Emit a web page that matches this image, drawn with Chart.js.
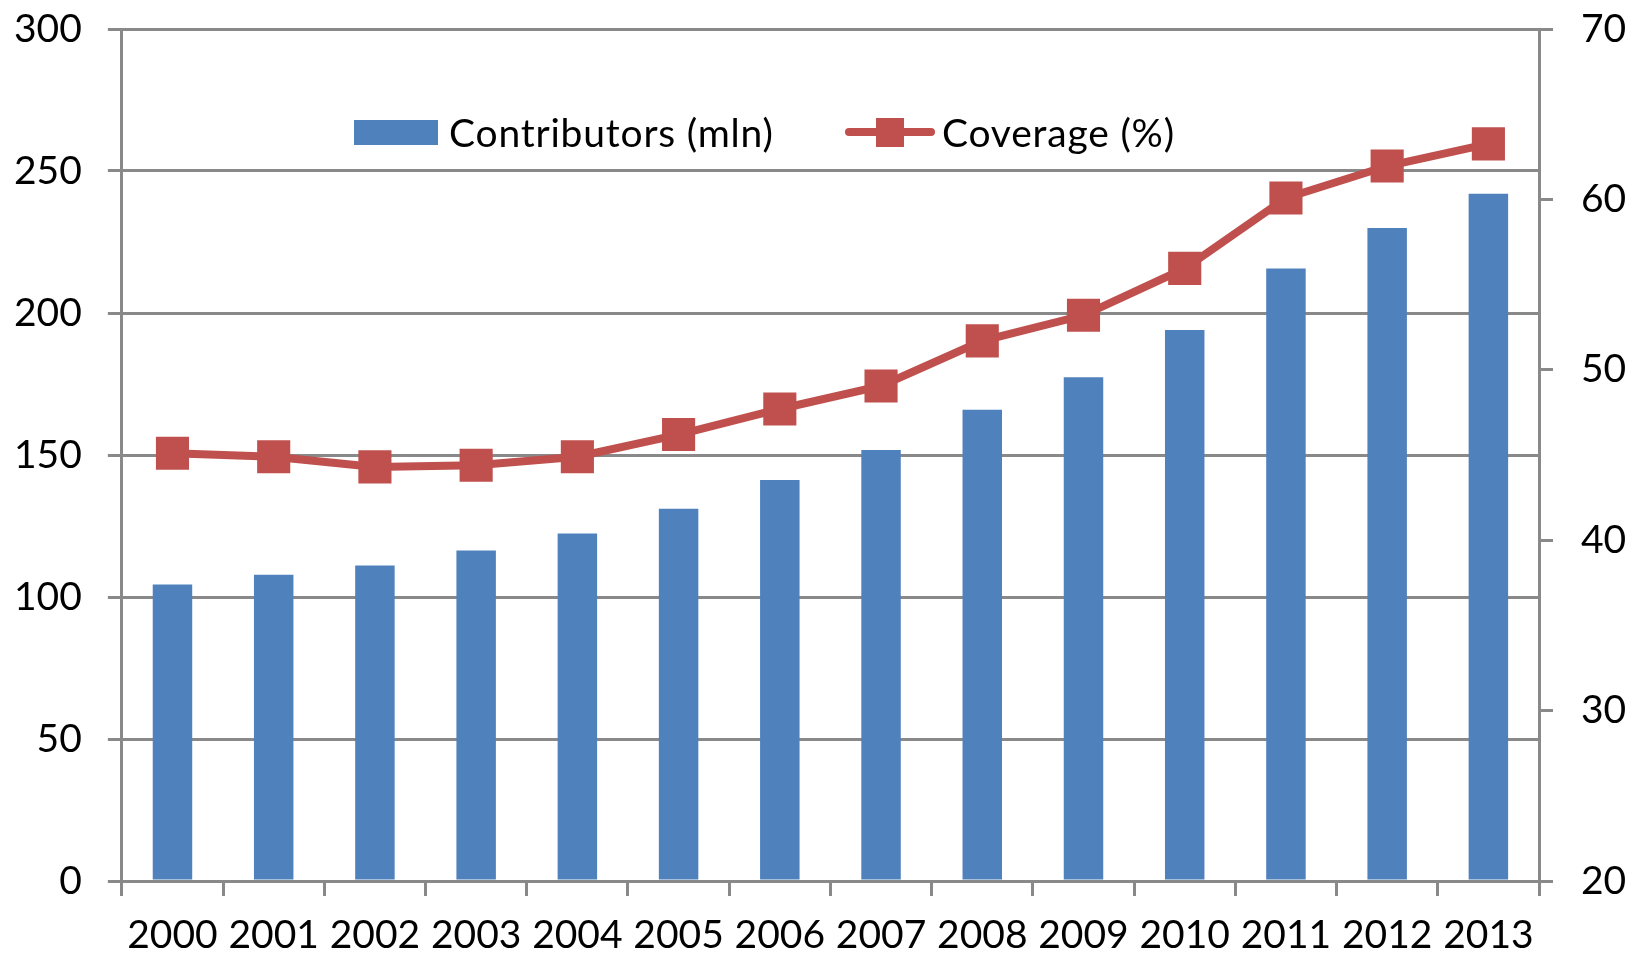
<!DOCTYPE html>
<html>
<head>
<meta charset="utf-8">
<script src="https://cdn.jsdelivr.net/npm/chart.js@4.4.1/dist/chart.umd.min.js"></script>
<style>
  html, body { margin: 0; padding: 0; background: #fff; }
  #wrap { position: relative; width: 1629px; height: 954px; }
  #legend { position: absolute; left: 0; top: 0; font-family: Lato, "Open Sans", sans-serif; font-size: 39px; letter-spacing: 0.8px; color: #000; }
  .item { position: absolute; display: flex; align-items: center; height: 40px; white-space: nowrap; }
  .box { width: 84px; height: 25px; margin-right: 11px; }
  .lineSym { position: relative; width: 90px; height: 30px; margin-right: 7px; }
  .lineSym .ln { position: absolute; left: 0; right: 0; top: 11px; height: 8px; border-radius: 4px; }
  .lineSym .sq { position: absolute; left: 31px; top: 1px; width: 28px; height: 29px; }
</style>
</head>
<body>
<div id="wrap">
  <canvas id="chart" width="1629" height="954"></canvas>
  <div id="legend"></div>
</div>
<script>
// Внески та охоплення по роках
const YEARS = ["2000", "2001", "2002", "2003", "2004", "2005", "2006", "2007", "2008", "2009", "2010", "2011", "2012", "2013"];
const CONTRIBUTORS = [104.4, 107.8, 111.1, 116.4, 122.4, 131.1, 141.2, 151.8, 165.9, 177.4, 194.0, 215.7, 229.9, 242.0];
const COVERAGE = [45.1, 44.9, 44.3, 44.4, 44.9, 46.2, 47.7, 49.05, 51.7, 53.2, 55.95, 60.08, 61.96, 63.26];
const LEFT_RANGE = [0, 300, 50];
const RIGHT_RANGE = [20, 70, 10];

const BLUE = "#4f81bd";
const RED = "#c0504d";
const GRID = "#898989";
const FONT = { family: "Lato, 'Open Sans', sans-serif", size: 39, lineHeight: 1 };

// прибираємо автоматичні відступи під крайні підписи
const noEdgePad = (scale) => {
  scale.paddingLeft = 0;
  scale.paddingRight = 0;
  scale.paddingTop = 0;
  scale.paddingBottom = 0;
};

const canvas = document.getElementById("chart");
const chart = new Chart(canvas, {
  data: {
    labels: YEARS,
    datasets: [
      {
        type: "bar",
        label: "Contributors (mln)",
        data: CONTRIBUTORS,
        backgroundColor: BLUE,
        categoryPercentage: 1,
        barPercentage: 0.39,
        yAxisID: "y",
        order: 2
      },
      {
        type: "line",
        label: "Coverage (%)",
        data: COVERAGE,
        borderColor: RED,
        backgroundColor: RED,
        borderWidth: 8,
        pointStyle: "rect",
        pointRadius: 22,
        pointBorderWidth: 2,
        tension: 0,
        clip: false,
        yAxisID: "y1",
        order: 1
      }
    ]
  },
  options: {
    responsive: false,
    animation: false,
    layout: { autoPadding: false, padding: { left: -12, right: 0, top: 29, bottom: -21 } },
    plugins: { legend: { display: false }, tooltip: { enabled: false } },
    scales: {
      x: {
        offset: true,
        afterFit: noEdgePad,
        grid: { offset: true, drawOnChartArea: false, drawTicks: true, tickLength: 15, color: GRID, lineWidth: 3 },
        border: { display: true, color: GRID, width: 3 },
        ticks: { color: "#000", font: FONT, padding: 20, maxRotation: 0, autoSkip: false }
      },
      y: {
        position: "left",
        min: LEFT_RANGE[0],
        max: LEFT_RANGE[1],
        afterFit: noEdgePad,
        grid: { color: GRID, lineWidth: 3, tickLength: 14 },
        border: { display: true, color: GRID, width: 3 },
        ticks: { stepSize: LEFT_RANGE[2], color: "#000", font: FONT, padding: 26 }
      },
      y1: {
        position: "right",
        min: RIGHT_RANGE[0],
        max: RIGHT_RANGE[1],
        afterFit: (scale) => { noEdgePad(scale); scale.width = 90; },
        grid: { drawOnChartArea: false, color: GRID, lineWidth: 3, tickLength: 14 },
        border: { display: true, color: GRID, width: 3 },
        ticks: { stepSize: RIGHT_RANGE[2], color: "#000", font: FONT, padding: 28 }
      }
    }
  }
});

// HTML-легенда всередині області графіка
const legend = document.getElementById("legend");
const ds = chart.data.datasets;
legend.innerHTML =
  `<div class="item" style="left:354px;top:112px"><div class="box" style="background:${ds[0].backgroundColor}"></div>${ds[0].label}</div>` +
  `<div class="item" style="left:845px;top:112px"><div class="lineSym"><div class="ln" style="background:${ds[1].borderColor}"></div><div class="sq" style="background:${ds[1].borderColor}"></div></div>${ds[1].label}</div>`;
</script>
</body>
</html>
